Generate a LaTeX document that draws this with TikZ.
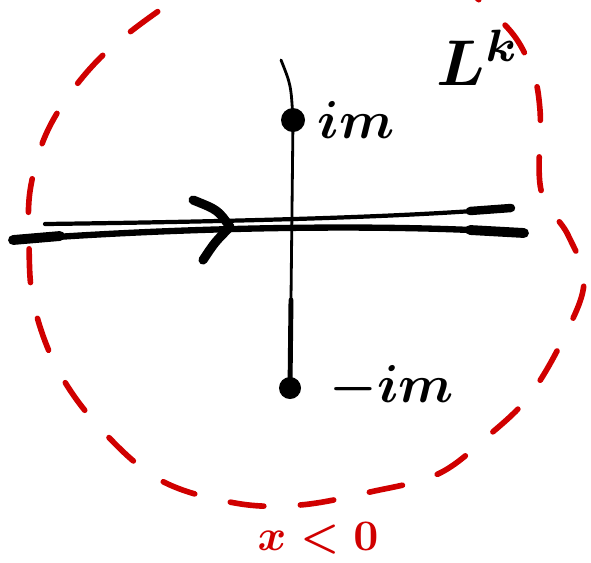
\documentclass[tikz,border=0pt]{standalone}
\usetikzlibrary{positioning}
\definecolor{sketchred}{RGB}{208,0,0}
\newcommand{\sketchtext}[2]{\scalebox{#1}{\boldmath$#2$}}
\tikzset{
  pole/.style={circle, fill=black, inner sep=0pt, minimum size=0.6cm},
  handtext/.style={inner sep=0pt}
}
\begin{document}
\begin{tikzpicture}[x=0.025cm, y=-0.025cm, line cap=round, line join=round]
    \useasboundingbox (0,0) rectangle (591,562);
    \clip (0,0) rectangle (591,562);

    % Closing contour (dashed, red)
    \draw[sketchred, line width=4pt, dash pattern=on 24pt off 26pt]
        plot[smooth cycle, tension=0.6] coordinates {
        (170,3) (100,58) (52,122) (31,185) (29,245) (34,305) (58,370)
        (100,428) (160,480) (235,503) (300,505) (370,492) (438,474)
        (488,436) (530,395) (565,335) (584,282) (568,235) (541,190)
        (540,110) (530,65) (500,20) (420,-40) (300,-55) (220,-25)};

    % Poles
    \coordinate (top) at (281,60);
    \node[pole] (ip) at (293,120) {};
    \node[pole, minimum size=0.55cm] (mip) at (290,388) {};
    \draw[line width=2pt] (top) .. controls (291,85) .. (ip.center) -- (mip.center);
    \draw[line width=3.5pt] (291,300) -- (mip.center);
    \node[handtext, right=0.3cm of ip] (iplabel) {\sketchtext{3.8}{im}};
    \node[handtext, right=0.7cm of mip] (miplabel) {\sketchtext{3.8}{-im}};

    % Real axis, drawn twice
    \coordinate (a1) at (13,240);
    \coordinate (a2) at (524,233);
    \coordinate (b1) at (45,224);
    \coordinate (b2) at (511,208);
    \draw[line width=4.5pt] (a1) .. controls (200,226) and (400,224) .. (a2);
    \draw[line width=3pt] (b1) .. controls (200,222) and (400,218) .. (b2);
    \draw[line width=7pt] (470,230) -- (a2);
    \draw[line width=6pt] (470,211) -- (b2);
    \draw[line width=7pt] (a1) -- (60,236);

    % Direction
    \coordinate (tip) at (230,227);
    \draw[line width=6.5pt] (193,200) .. controls (218,210) .. (tip)
        .. controls (215,242) .. (203,260);

    % Labels
    \node (lk) at (478,58) {\sketchtext{4.6}{L^{k}}};
    \node[sketchred] (cond) at (318,538) {\sketchtext{3.1}{x<0}};
\end{tikzpicture}
\end{document}
